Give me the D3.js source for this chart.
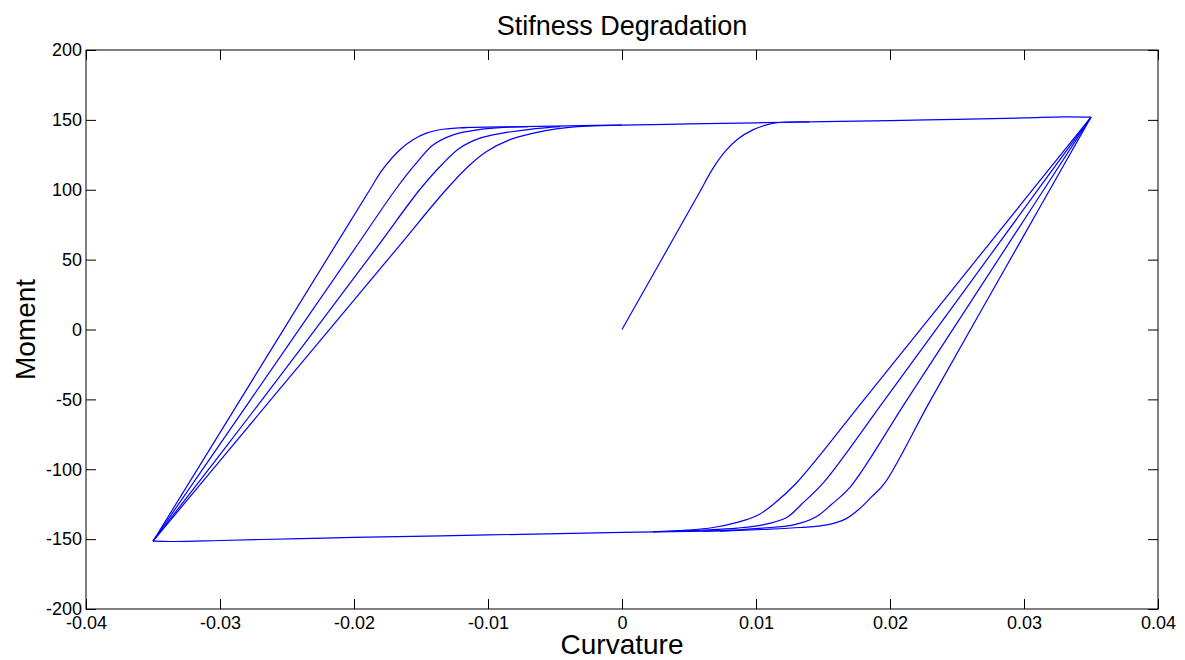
<!DOCTYPE html>
<html lang="en">
    <head>
        <meta charset="utf-8">
        <title>Stifness Degradation</title>
        <script type="text/javascript" src="https://d3js.org/d3.v7.min.js"></script>
        <style type="text/css">
          body { margin: 0; background: #fff; }
          svg { width: 1185px; height: 660px; font-family: "Liberation Sans", Arial, sans-serif; }
        </style>
    </head>
    <body>
      <svg></svg>

        <script type="text/javascript">

        // axis ticks
        const xTicks = [-0.04, -0.03, -0.02, -0.01, 0, 0.01, 0.02, 0.03, 0.04];
        const yTicks = [-200, -150, -100, -50, 0, 50, 100, 150, 200];

        // [curvature, moment] pairs
        const loading = [[0, 0], [0.0056, 95], [0.0068, 115.5], [0.0077, 127.5], [0.0086, 136],
                         [0.0098, 143], [0.011, 147], [0.012, 148.3], [0.014, 148.6]];

        const topLine = [[-0.012, 144.4], [-0.009, 145], [-0.004, 145.7], [0, 146.3], [0.005, 147.1],
                         [0.01, 147.9], [0.015, 148.7], [0.02, 149.5], [0.025, 150.4], [0.03, 151.4],
                         [0.033, 152.2], [0.035, 152]];

        const bottomLine = [[0.008, -144], [0.005, -144.5], [0, -145.2], [-0.01, -147], [-0.02, -148.8],
                            [-0.024, -149.6], [-0.03, -151], [-0.0335, -151.7], [-0.035, -151.5]];

        // unloading branches from the positive peak, stiffest first
        const unload1 = [[0.035, 152], [0.02938, 57], [0.02306, -50], [0.0196, -110], [0.0186, -120],
                         [0.0177, -128.5], [0.0167, -135.5], [0.0153, -139.8], [0.0133, -141.7], [0.0105, -143.1],
                         [0.0073, -144.3]];
        const unload2 = [[0.035, 152], [0.02855, 57], [0.02129, -50], [0.01701, -113], [0.01565, -125],
                         [0.0145, -134], [0.0128, -139.8], [0.0105, -142.1], [0.0081, -143.6], [0.006, -144.3]];
        const unload3 = [[0.035, 152], [0.02777, 57], [0.01963, -50], [0.0150, -110], [0.0134, -125],
                         [0.0123, -134.5], [0.0105, -139.8], [0.0086, -142.1], [0.006, -143.6], [0.004, -144.4]];
        const unload4 = [[0.035, 152], [0.02704, 57], [0.01808, -50], [0.0130, -110], [0.0113, -125],
                         [0.0102, -132.5], [0.0086, -138], [0.0068, -141.7], [0.0048, -143.6], [0.0023, -144.8]];

        // reloading branches from the negative peak, stiffest first
        const reload1 = [[-0.035, -151.5], [-0.02847, -50], [-0.02159, 57], [-0.01882, 100], [-0.0179, 114],
                         [-0.01657, 128.6], [-0.0156, 135.7], [-0.0146, 140.5], [-0.01336, 143.3], [-0.0116, 144.5]];
        const reload2 = [[-0.035, -151.5], [-0.0277, -50], [-0.02, 57], [-0.01691, 100], [-0.01545, 117.9],
                         [-0.0141, 132], [-0.0126, 139.3], [-0.0108, 142.9], [-0.0091, 144.5], [-0.007, 145.2]];
        const reload3 = [[-0.035, -151.5], [-0.02684, -50], [-0.01843, 57], [-0.0151, 100], [-0.01345, 117.9],
                         [-0.0121, 129.8], [-0.0106, 136.9], [-0.0089, 140.5], [-0.0066, 143.6], [-0.0046, 145.2]];
        const reload4 = [[-0.035, -151.5], [-0.02619, -50], [-0.01687, 57], [-0.01313, 100], [-0.01134, 117.9],
                         [-0.0101, 127.4], [-0.0084, 135.7], [-0.0066, 140.5], [-0.0049, 143.6], [-0.0026, 145.5],
                         [0, 146.3]];

        const segments = [loading, topLine, unload1, unload2, unload3, unload4,
                          bottomLine, reload1, reload2, reload3, reload4];

        const svg = d3.select("svg");
        const plotLeft = 86, plotRight = 1158, plotTop = 50, plotBottom = 609;
        const tickLen = 10;

        const x = d3.scaleLinear().domain([-0.04, 0.04]).range([plotLeft, plotRight]);
        const y = d3.scaleLinear().domain([-200, 200]).range([plotBottom, plotTop]);

        const fmt = d => d === 0 ? "0" : String(d);

        // curves
        const line = d3.line()
                       .x(d => x(d[0]))
                       .y(d => y(d[1]))
                       .curve(d3.curveCatmullRom.alpha(0.5));
        svg.append("g")
           .selectAll("path")
           .data(segments)
           .enter()
           .append("path")
           .attr("d", line)
           .attr("fill", "none")
           .attr("stroke", "#0000ff")
           .attr("stroke-width", 1.2)
           .attr("stroke-linejoin", "round");

        // axes: ticks inward on all four sides
        const axisStyle = g => {
            g.select(".domain").remove();
            g.selectAll(".tick line").attr("stroke", "#000");
            g.selectAll(".tick text").attr("fill", "#000").attr("font-size", "18px")
             .attr("font-family", "'Liberation Sans', Arial, sans-serif");
        };

        svg.append("g")
           .attr("transform", `translate(0,${plotBottom})`)
           .call(d3.axisBottom(x).tickValues(xTicks).tickFormat(fmt).tickSizeInner(-tickLen).tickSizeOuter(0).tickPadding(7))
           .call(axisStyle);

        svg.append("g")
           .attr("transform", `translate(0,${plotTop})`)
           .call(d3.axisTop(x).tickValues(xTicks).tickFormat("").tickSizeInner(-tickLen).tickSizeOuter(0))
           .call(axisStyle);

        svg.append("g")
           .attr("transform", `translate(${plotLeft},0)`)
           .call(d3.axisLeft(y).tickValues(yTicks).tickFormat(fmt).tickSizeInner(-tickLen).tickSizeOuter(0).tickPadding(4))
           .call(axisStyle);

        svg.append("g")
           .attr("transform", `translate(${plotRight},0)`)
           .call(d3.axisRight(y).tickValues(yTicks).tickFormat("").tickSizeInner(-tickLen).tickSizeOuter(0))
           .call(axisStyle);

        // box
        svg.append("rect")
           .attr("x", plotLeft).attr("y", plotTop)
           .attr("width", plotRight - plotLeft).attr("height", plotBottom - plotTop)
           .attr("fill", "none").attr("stroke", "#000").attr("stroke-width", 1);

        // labels
        svg.append("text")
           .attr("x", (plotLeft + plotRight) / 2).attr("y", 35)
           .attr("text-anchor", "middle")
           .attr("font-size", "27px")
           .text("Stifness Degradation");

        svg.append("text")
           .attr("x", (plotLeft + plotRight) / 2).attr("y", 654)
           .attr("text-anchor", "middle")
           .attr("font-size", "28px")
           .text("Curvature");

        svg.append("text")
           .attr("transform", `translate(35,${(plotTop + plotBottom) / 2}) rotate(-90)`)
           .attr("text-anchor", "middle")
           .attr("font-size", "28px")
           .text("Moment");
    </script>
</body>
</html>
